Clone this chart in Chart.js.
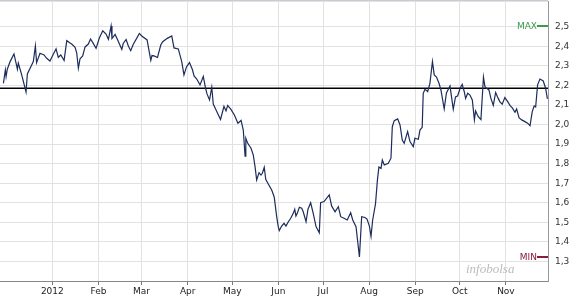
<!DOCTYPE html>
<html>
<head>
<meta charset="utf-8">
<script src="https://cdn.jsdelivr.net/npm/chart.js@4"></script>
<style>
html,body{margin:0;padding:0;background:#fff}
#wrap{width:581px;height:300px;position:relative}
</style>
</head>
<body>
<div id="wrap"><canvas id="chart"></canvas></div>
<script>
(function(){
// day offsets from 1 Jan 2012
const days = [-32.9,-31.6,-31.1,-30.3,-28.4,-25.8,-24.4,-23.5,-22.9,-20.6,-17.7,-16.8,-13.9,-12.8,-11.4,-10.6,-8.3,-5.6,-3.8,-1.6,
0.7,2.5,4.0,5.7,7.9,9.7,11.9,13.0,15.3,16.4,17.5,18.6,20.4,22.0,24.2,25.7,27.2,29.4,31.6,33.9,
36.1,37.7,39.5,40.1,42.2,43.7,46.7,47.7,49.6,51.1,52.7,54.5,56.7,58.5,60.1,63.7,65.2,66.2,67.0,68.4,
70.7,72.9,74.2,77.3,80.3,81.8,84.7,87.0,88.5,90.2,92.2,94.1,95.3,97.1,99.3,101.5,103.0,104.0,105.7,107.2,
108.2,110.4,113.1,115.4,116.8,117.9,120.1,122.4,124.8,126.9,128.4,129.6,130.1,131.4,133.6,135.1,136.3,137.4,139.0,140.3,
141.2,142.5,143.5,145.2,147.5,149.2,150.9,151.9,152.6,154.2,155.8,157.1,158.7,160.3,162.0,163.0,163.8,164.7,166.1,167.7,
168.7,170.6,171.9,173.7,175.5,177.3,179.5,180.4,182.7,186.2,187.8,190.1,192.3,193.9,196.1,198.3,200.6,202.0,204.2,206.5,
208.0,210.2,211.6,213.2,214.3,215.4,217.3,218.6,219.6,221.0,221.9,223.2,225.9,227.7,228.6,229.9,232.2,233.8,235.3,236.6,
238.9,240.5,242.7,243.8,246.1,247.2,248.7,249.4,250.6,252.4,253.9,255.6,256.8,258.3,260.0,261.3,263.5,265.0,267.4,269.6,
271.1,272.5,274.3,275.6,277.0,277.9,279.3,280.8,282.4,283.8,284.6,286.4,288.2,289.9,290.9,292.0,293.6,294.9,296.5,298.1,
299.8,301.0,302.5,304.3,306.2,307.7,309.3,311.1,312.2,313.8,315.6,317.8,319.6,321.2,322.7,324.0,325.0,326.3,327.9,330.1,
331.7,332.9];

const prices = [2.211,2.279,2.245,2.283,2.322,2.361,2.314,2.283,2.314,2.254,2.167,2.259,2.305,2.322,2.402,2.317,2.365,2.356,2.339,2.325,
2.361,2.387,2.344,2.356,2.328,2.429,2.417,2.412,2.395,2.365,2.288,2.336,2.351,2.397,2.412,2.438,2.419,2.390,2.443,2.480,
2.463,2.436,2.504,2.440,2.461,2.436,2.385,2.416,2.435,2.402,2.378,2.412,2.441,2.466,2.453,2.433,2.371,2.328,2.353,2.351,
2.343,2.407,2.424,2.441,2.453,2.392,2.387,2.322,2.254,2.295,2.317,2.283,2.249,2.233,2.203,2.246,2.187,2.157,2.126,2.191,
2.105,2.070,2.026,2.093,2.070,2.098,2.078,2.049,2.007,2.021,1.972,1.839,1.930,1.904,1.879,1.845,1.785,1.717,1.754,1.742,
1.751,1.782,1.720,1.696,1.665,1.630,1.527,1.478,1.458,1.481,1.495,1.481,1.503,1.521,1.546,1.567,1.532,1.546,1.577,1.572,
1.554,1.503,1.567,1.600,1.543,1.478,1.447,1.600,1.606,1.640,1.584,1.554,1.580,1.529,1.521,1.512,1.549,1.512,1.478,1.323,
1.529,1.525,1.517,1.481,1.428,1.512,1.594,1.717,1.783,1.776,1.819,1.793,1.802,1.828,1.989,2.020,2.029,1.998,1.921,1.904,
1.964,1.913,1.887,1.930,1.925,1.972,1.986,2.160,2.181,2.168,2.211,2.322,2.254,2.243,2.211,2.177,2.080,2.162,2.197,2.078,
2.141,2.146,2.187,2.206,2.168,2.134,2.160,2.151,2.126,2.024,2.070,2.040,2.026,2.243,2.194,2.186,2.177,2.134,2.098,2.164,
2.134,2.116,2.104,2.138,2.117,2.098,2.085,2.063,2.080,2.035,2.024,2.015,2.007,1.994,2.066,2.095,2.090,2.203,2.233,2.223,
2.186,2.131];

const monthDays = [0,31,60,91,121,152,182,213,244,274,305];
const monthLabels = ['2012','Feb','Mar','Apr','May','Jun','Jul','Aug','Sep','Oct','Nov'];
const yLabelMin = 1.3, yLabelMax = 2.5;
const refLevel = 2.186;
const xMin = -35.2, xMax = 333.3;
const yMin = 1.2, yMax = 2.632;

const series = days.map((d, i) => ({x: d, y: prices[i]}));
const hiVal = Math.max(...prices);
const loVal = Math.min(...prices);

const extras = {
  id: 'extras',
  afterDraw(chart) {
    const ctx = chart.ctx, a = chart.chartArea, ys = chart.scales.y;
    ctx.save();
    // top border
    ctx.strokeStyle = '#c5ccd4';
    ctx.lineWidth = 1;
    ctx.beginPath(); ctx.moveTo(0, 0.5); ctx.lineTo(a.right, 0.5); ctx.stroke();
    // max / min markers
    ctx.font = '9px "DejaVu Sans"';
    ctx.textAlign = 'right';
    ctx.textBaseline = 'middle';
    [[hiVal, 'MAX', '#3d9b4e'], [loVal, 'MIN', '#8a1c3c']].forEach(([v, t, c]) => {
      const y = Math.round(ys.getPixelForValue(v));
      ctx.fillStyle = c;
      ctx.fillText(t, a.right - 11, y + 0.5);
      ctx.fillRect(a.right - 11, y - 1, 11, 2);
    });
    // watermark
    ctx.font = 'italic 13px "Liberation Serif"';
    ctx.fillStyle = '#bcbcbc';
    ctx.textAlign = 'left';
    ctx.fillText('infobolsa', 466, 270);
    ctx.restore();
  }
};

new Chart(document.getElementById('chart').getContext('2d'), {
  type: 'line',
  data: {
    datasets: [{
      data: series,
      borderColor: '#1c2c5c',
      borderWidth: 1.2,
      pointRadius: 0,
      tension: 0,
      order: 1
    }, {
      data: [{x: xMin, y: refLevel}, {x: xMax, y: refLevel}],
      borderColor: '#000',
      borderWidth: 1.5,
      pointRadius: 0,
      order: 2
    }]
  },
  options: {
    responsive: true, maintainAspectRatio: false, animation: false,
    layout: {autoPadding: false, padding: {top: 1, left: 0, right: 0, bottom: 0}},
    plugins: {legend: {display: false}, tooltip: {enabled: false}},
    scales: {
      x: {
        type: 'linear', min: xMin, max: xMax,
        afterBuildTicks: s => { s.ticks = monthDays.map(v => ({value: v})); },
        afterFit: s => { s.height = 19; s.paddingLeft = 0; s.paddingRight = 0; },
        grid: {color: '#e2e2e2', tickLength: 4, tickColor: '#777'},
        border: {color: '#888'},
        ticks: {
          color: '#222', padding: 1, maxRotation: 0, autoSkip: false,
          font: {family: 'DejaVu Sans', size: 9},
          callback: v => monthLabels[monthDays.indexOf(v)] || ''
        }
      },
      y: {
        position: 'right', min: yMin, max: yMax,
        afterFit: s => { s.width = 33; s.paddingTop = 0; s.paddingBottom = 0; },
        grid: {color: '#e2e2e2', drawTicks: false},
        border: {color: '#999'},
        ticks: {
          stepSize: 0.1, color: '#333', padding: 7,
          font: {family: 'DejaVu Sans', size: 9},
          callback: v => (v >= yLabelMin - 0.001 && v <= yLabelMax + 0.001) ? v.toFixed(1).replace('.', ',') : ''
        }
      }
    }
  },
  plugins: [extras]
});
})();
</script>
</body>
</html>
